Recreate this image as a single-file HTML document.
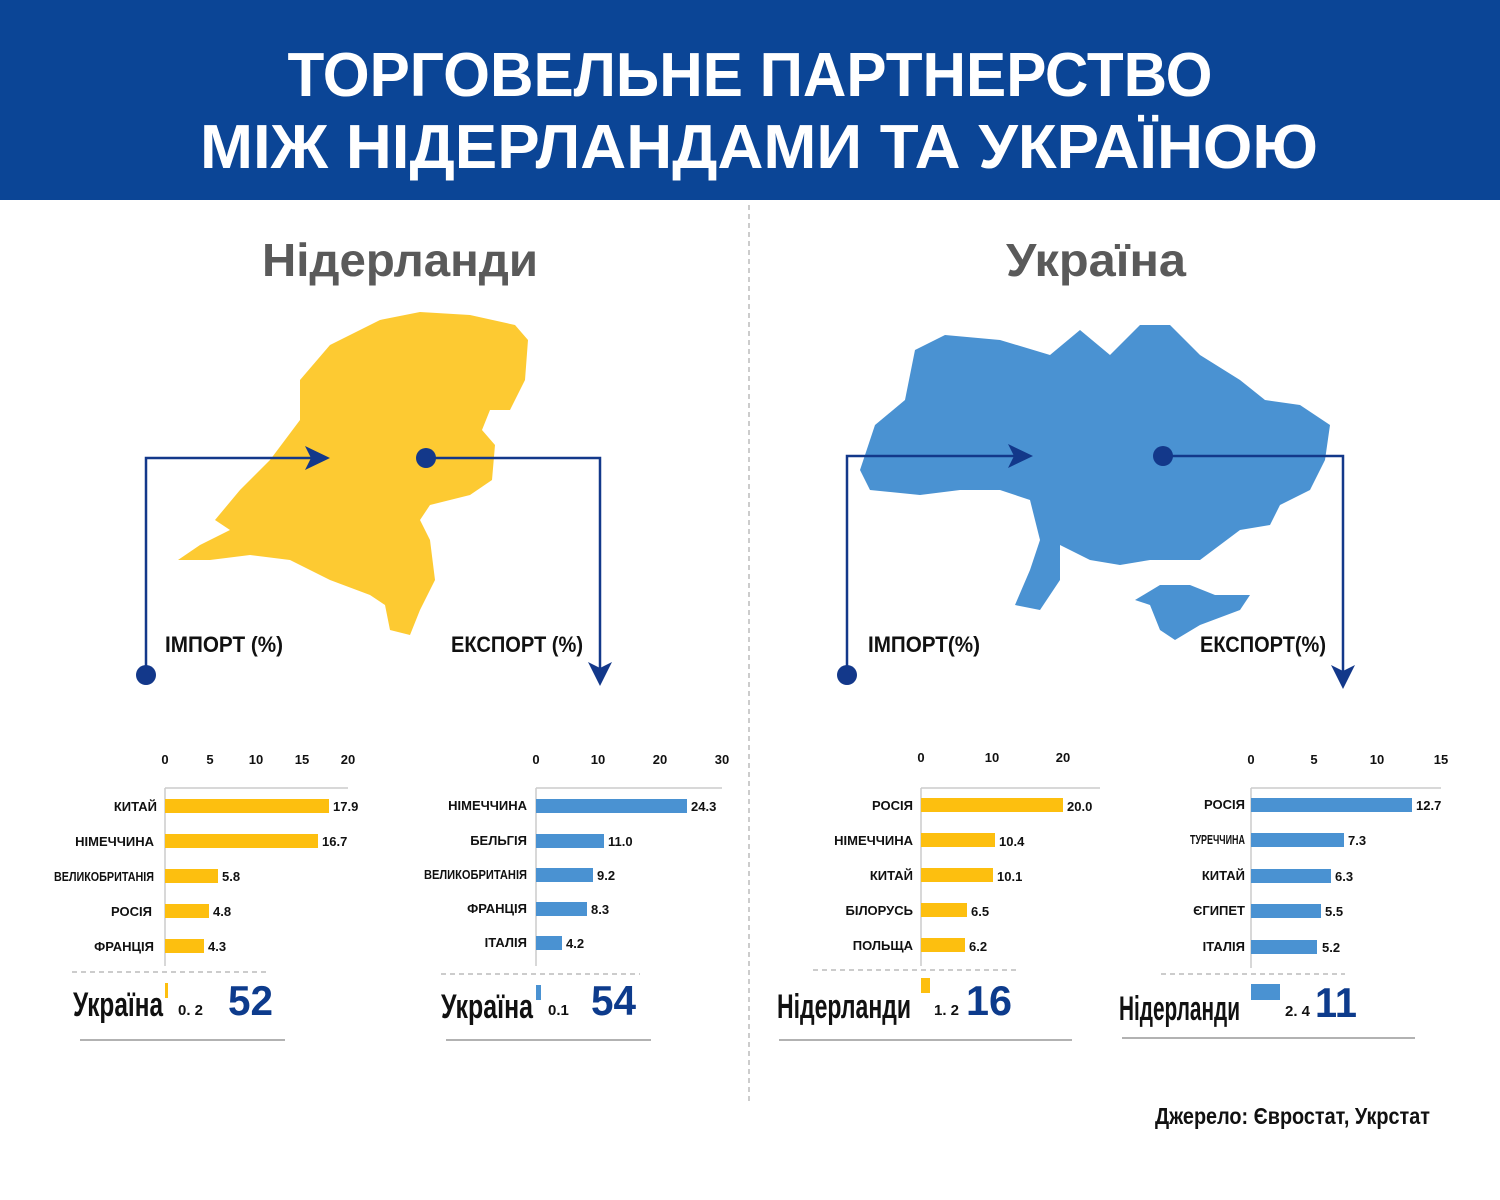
<!DOCTYPE html>
<html><head><meta charset="utf-8"><style>
html,body{margin:0;padding:0;background:#fff;}
svg{display:block;font-family:"Liberation Sans","DejaVu Sans",sans-serif;font-weight:bold;}
</style></head><body>
<svg width="1500" height="1200" viewBox="0 0 1500 1200" xmlns="http://www.w3.org/2000/svg">
<rect x="0" y="0" width="1500" height="200" fill="#0b4596"/>
<text x="750" y="96" font-size="62" fill="#fff" text-anchor="middle" textLength="925" lengthAdjust="spacingAndGlyphs" font-weight="900">ТОРГОВЕЛЬНЕ ПАРТНЕРСТВО</text>
<text x="759" y="168" font-size="62" fill="#fff" text-anchor="middle" textLength="1118" lengthAdjust="spacingAndGlyphs" font-weight="900">МІЖ НІДЕРЛАНДАМИ ТА УКРАЇНОЮ</text>
<line x1="749" y1="205" x2="749" y2="1105" stroke="#bbb" stroke-width="1.5" stroke-dasharray="5,4"/>
<text x="400" y="276" font-size="46" fill="#5a5a5a" text-anchor="middle" textLength="276" lengthAdjust="spacingAndGlyphs">Нідерланди</text>
<text x="1096" y="276" font-size="46" fill="#5a5a5a" text-anchor="middle" textLength="180" lengthAdjust="spacingAndGlyphs">Україна</text>

<path fill="#fdca32" d="M300,380 L330,345 L380,320 L420,312 L470,315 L515,325 L528,340 L525,380 L510,410 L490,410 L482,430 L495,445 L492,480 L470,495 L430,505 L420,520 L430,540 L435,580 L420,610 L410,635 L390,630 L385,605 L370,595 L330,580 L290,560 L250,555 L210,560 L178,560 L200,545 L230,530 L215,520 L240,490 L270,460 L300,420 Z"/>
<path fill="#4a92d2" d="M875,425 L905,400 L915,350 L945,335 L1000,340 L1050,355 L1080,330 L1110,355 L1140,325 L1170,325 L1200,355 L1240,380 L1265,400 L1300,405 L1330,425 L1325,460 L1310,490 L1280,505 L1270,525 L1240,530 L1220,545 L1200,560 L1150,560 L1120,565 L1090,560 L1060,545 L1060,580 L1040,610 L1015,605 L1030,570 L1040,540 L1030,500 L1000,490 L960,490 L920,495 L870,490 L860,470 L870,440 Z"/>
<path fill="#4a92d2" d="M1135,600 L1160,585 L1190,585 L1215,595 L1250,595 L1240,610 L1200,625 L1175,640 L1160,630 L1150,605 Z"/>

<g stroke="#13388a" stroke-width="2.5" fill="none">
<polyline points="146,675 146,458 315,458"/>
<polyline points="426,458 600,458 600,672"/>
<polyline points="847,675 847,456 1018,456"/>
<polyline points="1163,456 1343,456 1343,675"/>
</g>
<g fill="#13388a">
<circle cx="146" cy="675" r="10"/><circle cx="426" cy="458" r="10"/>
<circle cx="847" cy="675" r="10"/><circle cx="1163" cy="456" r="10"/>
<polygon points="305,446 330,458 305,470 311,458"/>
<polygon points="588,662 600,686 612,662 600,668"/>
<polygon points="1008,444 1033,456 1008,468 1014,456"/>
<polygon points="1331,665 1343,689 1355,665 1343,671"/>
</g>
<g font-size="22" fill="#111">
<text x="165" y="652" textLength="118" lengthAdjust="spacingAndGlyphs">ІМПОРТ (%)</text>
<text x="451" y="652" textLength="132" lengthAdjust="spacingAndGlyphs">ЕКСПОРТ (%)</text>
<text x="868" y="652" textLength="112" lengthAdjust="spacingAndGlyphs">ІМПОРТ(%)</text>
<text x="1200" y="652" textLength="126" lengthAdjust="spacingAndGlyphs">ЕКСПОРТ(%)</text>
<text x="1155" y="1124" textLength="275" lengthAdjust="spacingAndGlyphs" font-size="23">Джерело: Євростат, Укрстат</text>
</g>

<!-- chart 1 -->
<g font-size="13" fill="#111">
<g stroke="#ccc" stroke-width="1.5"><line x1="165" y1="788" x2="348" y2="788"/><line x1="165" y1="788" x2="165" y2="966"/></g>
<text x="165" y="764" text-anchor="middle">0</text><text x="210" y="764" text-anchor="middle">5</text><text x="256" y="764" text-anchor="middle">10</text><text x="302" y="764" text-anchor="middle">15</text><text x="348" y="764" text-anchor="middle">20</text>
<g fill="#fdbf0f"><rect x="165" y="799" width="164" height="14"/><rect x="165" y="834" width="153" height="14"/><rect x="165" y="869" width="53" height="14"/><rect x="165" y="904" width="44" height="14"/><rect x="165" y="939" width="39" height="14"/><rect x="165" y="983" width="3" height="15"/></g>
<g text-anchor="end"><text x="157" y="811">КИТАЙ</text><text x="154" y="846">НІМЕЧЧИНА</text><text x="154" y="881" textLength="100" lengthAdjust="spacingAndGlyphs">ВЕЛИКОБРИТАНІЯ</text><text x="152" y="916">РОСІЯ</text><text x="154" y="951">ФРАНЦІЯ</text></g>
<text x="333" y="811">17.9</text><text x="322" y="846">16.7</text><text x="222" y="881">5.8</text><text x="213" y="916">4.8</text><text x="208" y="951">4.3</text>
<line x1="72" y1="972" x2="268" y2="972" stroke="#999" stroke-dasharray="5,4"/>
<text x="73" y="1016" font-size="34" textLength="90" lengthAdjust="spacingAndGlyphs">Україна</text>
<text x="178" y="1015" font-size="15">0. 2</text>
<text x="228" y="1015" font-size="42" fill="#0d3b8c" textLength="45" lengthAdjust="spacingAndGlyphs">52</text>
<line x1="80" y1="1040" x2="285" y2="1040" stroke="#666" stroke-width="1"/>
</g>

<!-- chart 2 -->
<g font-size="13" fill="#111">
<g stroke="#ccc" stroke-width="1.5"><line x1="536" y1="788" x2="722" y2="788"/><line x1="536" y1="788" x2="536" y2="966"/></g>
<text x="536" y="764" text-anchor="middle">0</text><text x="598" y="764" text-anchor="middle">10</text><text x="660" y="764" text-anchor="middle">20</text><text x="722" y="764" text-anchor="middle">30</text>
<g fill="#4a92d2"><rect x="536" y="799" width="151" height="14"/><rect x="536" y="834" width="68" height="14"/><rect x="536" y="868" width="57" height="14"/><rect x="536" y="902" width="51" height="14"/><rect x="536" y="936" width="26" height="14"/><rect x="536" y="985" width="5" height="15"/></g>
<g text-anchor="end"><text x="527" y="810">НІМЕЧЧИНА</text><text x="527" y="845">БЕЛЬГІЯ</text><text x="527" y="879" textLength="103" lengthAdjust="spacingAndGlyphs">ВЕЛИКОБРИТАНІЯ</text><text x="527" y="913">ФРАНЦІЯ</text><text x="527" y="947">ІТАЛІЯ</text></g>
<text x="691" y="811">24.3</text><text x="608" y="846">11.0</text><text x="597" y="880">9.2</text><text x="591" y="914">8.3</text><text x="566" y="948">4.2</text>
<line x1="441" y1="974" x2="640" y2="974" stroke="#999" stroke-dasharray="5,4"/>
<text x="441" y="1018" font-size="34" textLength="92" lengthAdjust="spacingAndGlyphs">Україна</text>
<text x="548" y="1015" font-size="15">0.1</text>
<text x="591" y="1015" font-size="42" fill="#0d3b8c" textLength="45" lengthAdjust="spacingAndGlyphs">54</text>
<line x1="446" y1="1040" x2="651" y2="1040" stroke="#666" stroke-width="1"/>
</g>

<!-- chart 3 -->
<g font-size="13" fill="#111">
<g stroke="#ccc" stroke-width="1.5"><line x1="921" y1="788" x2="1100" y2="788"/><line x1="921" y1="788" x2="921" y2="966"/></g>
<text x="921" y="762" text-anchor="middle">0</text><text x="992" y="762" text-anchor="middle">10</text><text x="1063" y="762" text-anchor="middle">20</text>
<g fill="#fdbf0f"><rect x="921" y="798" width="142" height="14"/><rect x="921" y="833" width="74" height="14"/><rect x="921" y="868" width="72" height="14"/><rect x="921" y="903" width="46" height="14"/><rect x="921" y="938" width="44" height="14"/><rect x="921" y="978" width="9" height="15"/></g>
<g text-anchor="end"><text x="913" y="810">РОСІЯ</text><text x="913" y="845">НІМЕЧЧИНА</text><text x="913" y="880">КИТАЙ</text><text x="913" y="915">БІЛОРУСЬ</text><text x="913" y="950">ПОЛЬЩА</text></g>
<text x="1067" y="811">20.0</text><text x="999" y="846">10.4</text><text x="997" y="881">10.1</text><text x="971" y="916">6.5</text><text x="969" y="951">6.2</text>
<line x1="813" y1="970" x2="1018" y2="970" stroke="#999" stroke-dasharray="5,4"/>
<text x="777" y="1018" font-size="34" textLength="134" lengthAdjust="spacingAndGlyphs">Нідерланди</text>
<text x="934" y="1015" font-size="15">1. 2</text>
<text x="966" y="1015" font-size="42" fill="#0d3b8c" textLength="46" lengthAdjust="spacingAndGlyphs">16</text>
<line x1="779" y1="1040" x2="1072" y2="1040" stroke="#666" stroke-width="1"/>
</g>

<!-- chart 4 -->
<g font-size="13" fill="#111">
<g stroke="#ccc" stroke-width="1.5"><line x1="1251" y1="788" x2="1441" y2="788"/><line x1="1251" y1="788" x2="1251" y2="968"/></g>
<text x="1251" y="764" text-anchor="middle">0</text><text x="1314" y="764" text-anchor="middle">5</text><text x="1377" y="764" text-anchor="middle">10</text><text x="1441" y="764" text-anchor="middle">15</text>
<g fill="#4a92d2"><rect x="1251" y="798" width="161" height="14"/><rect x="1251" y="833" width="93" height="14"/><rect x="1251" y="869" width="80" height="14"/><rect x="1251" y="904" width="70" height="14"/><rect x="1251" y="940" width="66" height="14"/><rect x="1251" y="984" width="29" height="16"/></g>
<g text-anchor="end"><text x="1245" y="809">РОСІЯ</text><text x="1245" y="844" textLength="55" lengthAdjust="spacingAndGlyphs">ТУРЕЧЧИНА</text><text x="1245" y="880">КИТАЙ</text><text x="1245" y="915">ЄГИПЕТ</text><text x="1245" y="951">ІТАЛІЯ</text></g>
<text x="1416" y="810">12.7</text><text x="1348" y="845">7.3</text><text x="1335" y="881">6.3</text><text x="1325" y="916">5.5</text><text x="1322" y="952">5.2</text>
<line x1="1161" y1="974" x2="1345" y2="974" stroke="#999" stroke-dasharray="5,4"/>
<text x="1119" y="1020" font-size="34" textLength="121" lengthAdjust="spacingAndGlyphs">Нідерланди</text>
<text x="1285" y="1016" font-size="15">2. 4</text>
<text x="1315" y="1017" font-size="42" fill="#0d3b8c" textLength="42" lengthAdjust="spacingAndGlyphs">11</text>
<line x1="1122" y1="1038" x2="1415" y2="1038" stroke="#666" stroke-width="1"/>
</g>
</svg>
</body></html>
